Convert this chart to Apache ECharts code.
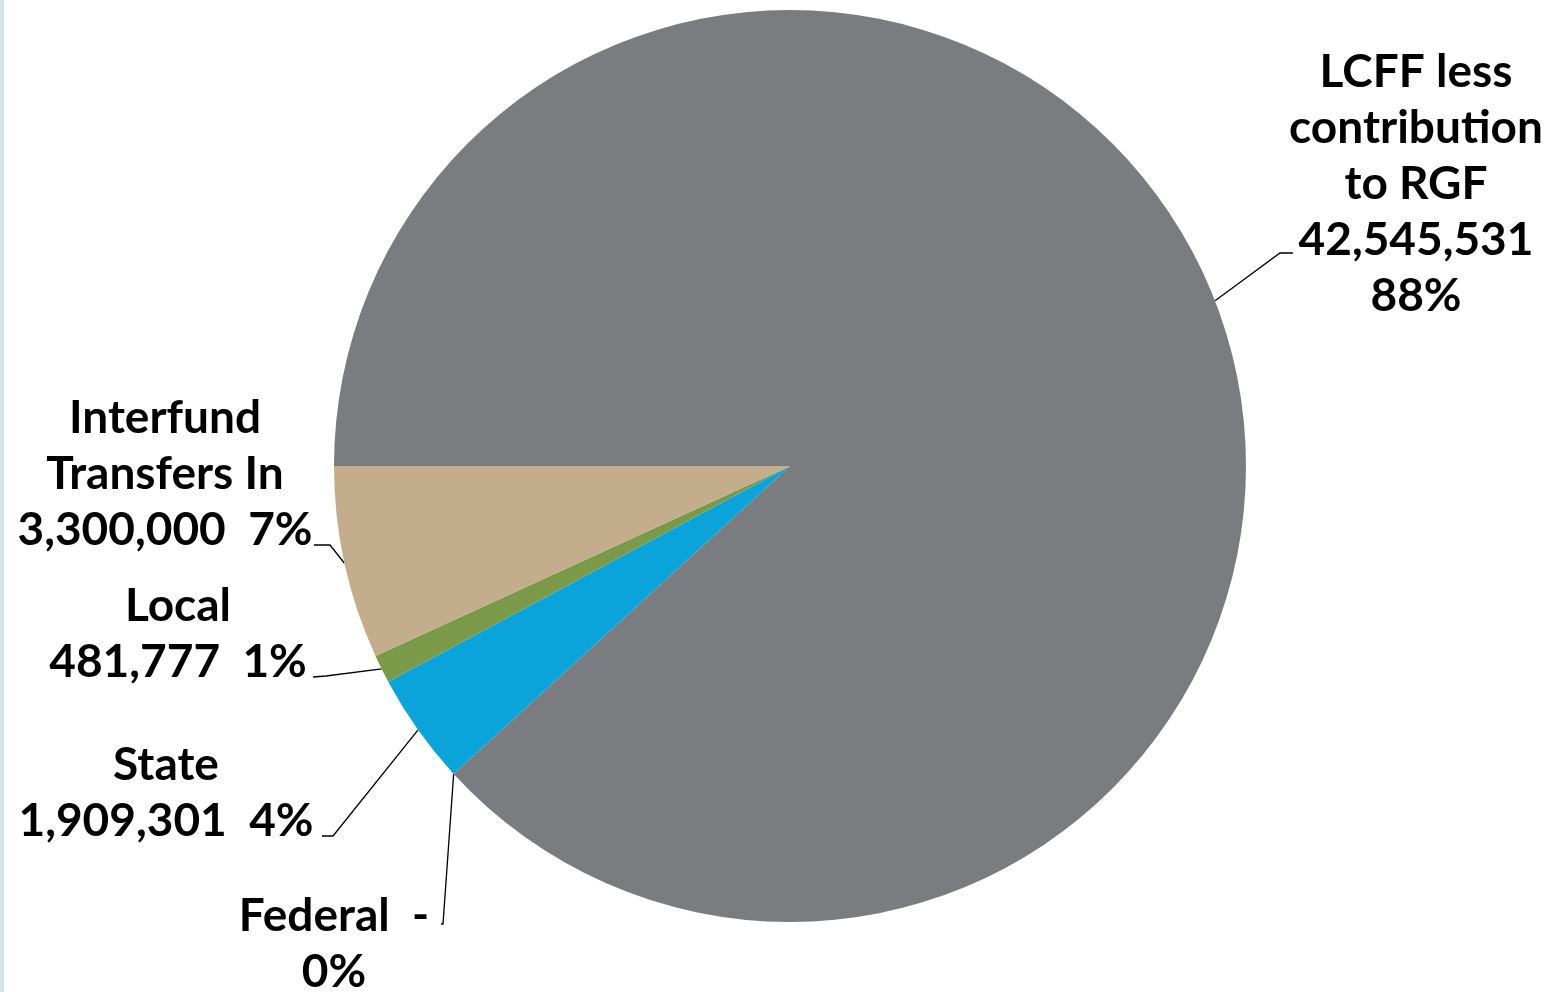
<!DOCTYPE html>
<html>
<head>
<meta charset="utf-8">
<script src="https://cdn.jsdelivr.net/npm/echarts@6/dist/echarts.min.js"></script>
<style>
html,body{margin:0;padding:0;background:#fff;}
#chart{width:1566px;height:992px;}
</style>
</head>
<body>
<div id="chart"></div>
<script>
var categories = ['LCFF less contribution to RGF', 'Federal', 'State', 'Local', 'Interfund Transfers In'];
var labelNames = ['LCFF less\ncontribution\nto RGF', 'Federal', 'State', 'Local', 'Interfund\nTransfers In'];
var values = [42545531, 0, 1909301, 481777, 3300000];
var valueLabels = ['42,545,531', '-', '1,909,301', '481,777', '3,300,000'];
var percentLabels = ['88%', '0%', '4%', '1%', '7%'];
var colors = ['#7B7C80', '#5B7FBF', '#0AA3DA', '#7A9A4A', '#C4AD8C'];

var labelTexts = [
  labelNames[0] + '\n' + valueLabels[0] + '\n' + percentLabels[0],
  labelNames[1] + '  ' + valueLabels[1] + '\n' + percentLabels[1],
  labelNames[2] + '\n' + valueLabels[2] + '  ' + percentLabels[2],
  labelNames[3] + '\n' + valueLabels[3] + '  ' + percentLabels[3],
  labelNames[4] + '\n' + valueLabels[4] + '  ' + percentLabels[4]
];

var labelCenters = [[1416, 184], [334, 944], [166, 793], [178, 634], [165, 474]];
// leader line bend and end points (label side)
var leaderEnds = [
  [[1280, 253], [1293, 253]],
  [[443, 924], [441, 924]],
  [[333, 836], [322, 836]],
  [[326, 676], [313, 677]],
  [[330, 545], [314, 545]]
];

var chart = echarts.init(document.getElementById('chart'));
chart.setOption({
  animation: false,
  graphic: [{
    type: 'rect', left: 0, top: 0,
    shape: {width: 4, height: 992},
    style: {fill: '#D3E3E8'}
  }],
  series: [{
    type: 'pie',
    center: [790, 466],
    radius: [0, 456],
    startAngle: 180,
    clockwise: true,
    minShowLabelAngle: 0,
    stillShowZeroSum: true,
    data: categories.map(function (c, i) {
      return {name: c, value: values[i], itemStyle: {color: colors[i]}};
    }),
    itemStyle: {borderWidth: 0},
    label: {
      show: true,
      formatter: function (p) { return labelTexts[p.dataIndex]; },
      fontFamily: 'Lato',
      fontWeight: 'bold',
      fontSize: 46,
      lineHeight: 56,
      color: '#000',
      align: 'center'
    },
    labelLine: {
      show: true,
      length: 12,
      length2: 12,
      smooth: false,
      lineStyle: {color: '#000', width: 1.3}
    },
    labelLayout: function (params) {
      var i = params.dataIndex;
      var c = labelCenters[i];
      var res = {x: c[0], y: c[1], align: 'center', verticalAlign: 'middle'};
      if (params.labelLinePoints && params.labelLinePoints[0]) {
        var s = params.labelLinePoints[0];
        res.labelLinePoints = [[s[0], s[1]], leaderEnds[i][0], leaderEnds[i][1]];
      }
      return res;
    },
    emphasis: {disabled: true}
  }]
});
</script>
</body>
</html>
